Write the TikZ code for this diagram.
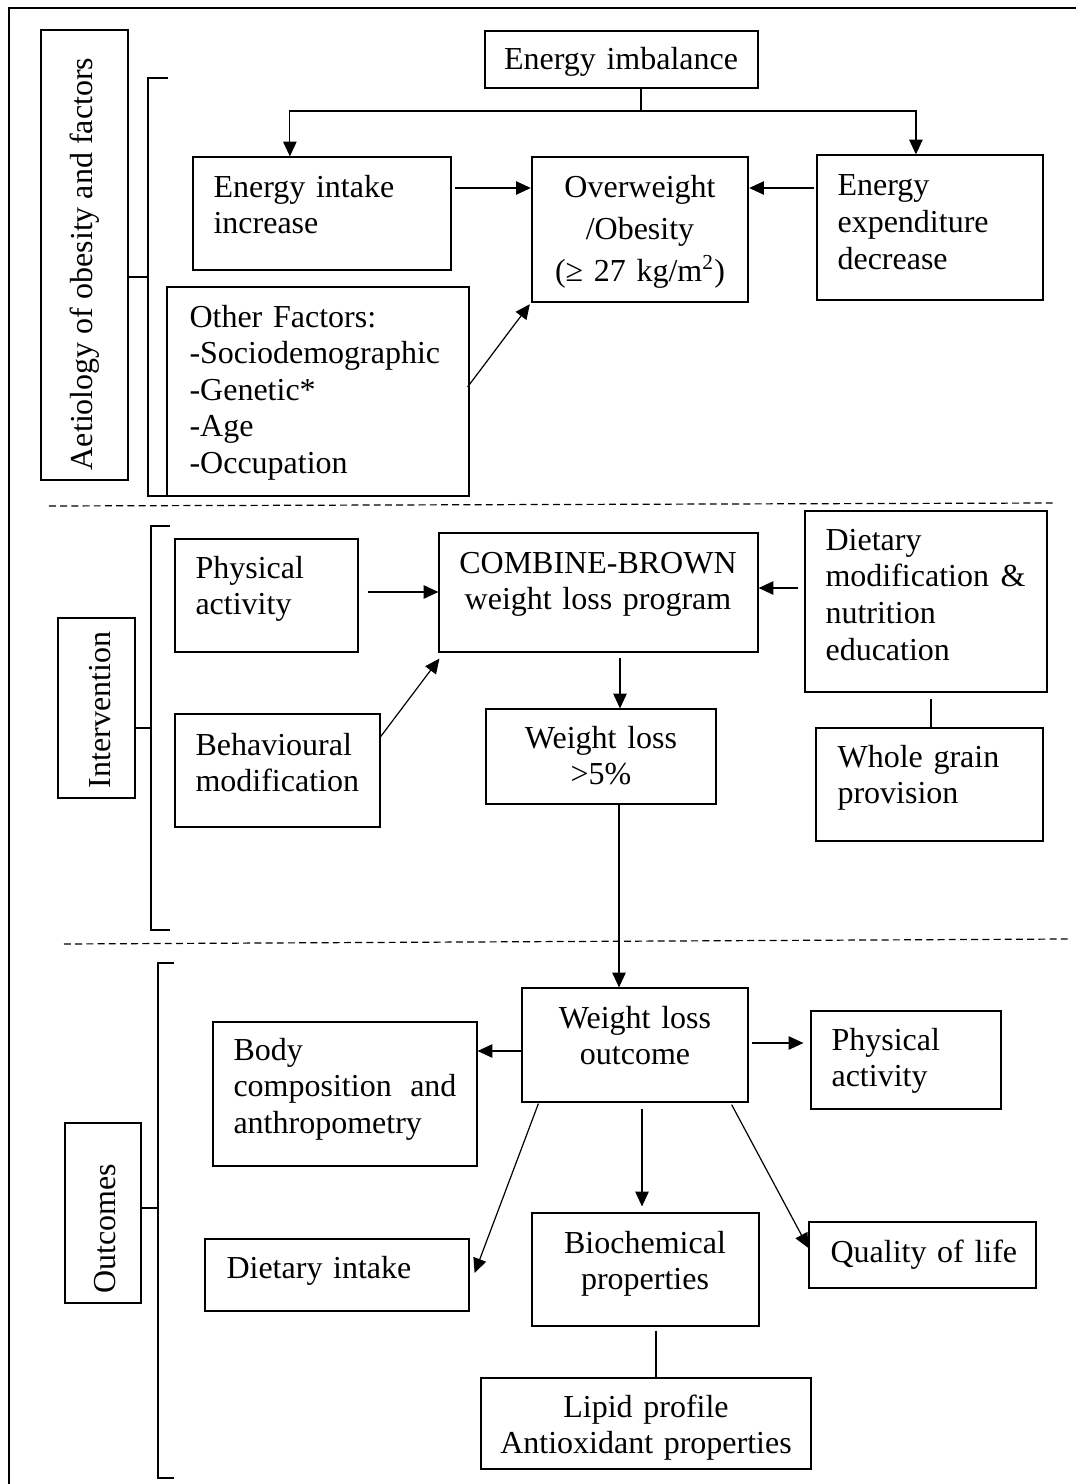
\documentclass[tikz,border=0pt]{standalone}
\usepackage{fontspec}
\setmainfont{Liberation Serif}
\usetikzlibrary{arrows.meta,fit,calc}
\begin{document}
\begin{tikzpicture}[x=0.375pt,y=-0.375pt,
  box/.style={draw, line width=0.45pt, inner sep=0pt},
  lt/.style={inner sep=0pt, font=\fontsize{12}{13.7}\selectfont, text width=130pt, align=left, anchor=base west},
  ct/.style={inner sep=0pt, font=\fontsize{12}{13.7}\selectfont, text width=140pt, align=center, anchor=base},
  rt/.style={inner sep=0pt, font=\fontsize{12}{13.7}\selectfont, rotate=90, anchor=base},
  arr/.style={line width=0.45pt, -{Triangle[length=5.5pt,width=5pt]}},
  ln/.style={line width=0.45pt},
  dline/.style={line width=0.45pt, dash pattern=on 2.6pt off 1.6pt}
]
\useasboundingbox (0,0) rectangle (1076,1484);
% outer frame
\draw[line width=0.6pt] (9,1484) -- (9,8) -- (1076,8);

% ===== Section 1 =====
\node[box, fit={(41,30) (128,480)}] (aet) {};
\node[rt] (aett) at (92,264) {Aetiology of obesity and factors};
\draw[ln] (168,78) -| (148,496) -- (168,496);
\coordinate (b1) at (148,277);
\draw[ln] (aet.east |- b1) -- (b1);

\node[box, fit={(485,31) (758,88)}] (ei) {};
\node[ct] (eit) at (621,70) {Energy imbalance};

\node[box, fit={(193,157) (451,270)}] (intake) {};
\node[lt] (intaket) at (213,197) {Energy intake\\increase};

\node[box, line width=0.9pt, fit={(532,157) (748,302)}] (ow) {};
\node[ct, font=\fontsize{12}{15.8}\selectfont] (owt) at (640,197) {Overweight\\/Obesity\\(≥ 27 kg/m\textsuperscript{2})};

\node[box, fit={(817,155) (1043,300)}] (exp) {};
\node[lt] (expt) at (837,196) {Energy\\expenditure\\decrease};

\node[box, fit={(167,287) (469,496)}] (other) {};
\node[lt] (othert) at (189,327) {Other Factors:\\-Sociodemographic\\-Genetic*\\-Age\\-Occupation};

\coordinate (j1) at (641,111);
\draw[ln] (ei.south -| j1) -- (j1);
\draw[arr] (j1) -| ($(intake.north west)!0.376!(intake.north east)$);
\draw[arr] (j1) -| ($(exp.north west)!0.438!(exp.north east)$);
\coordinate (r1) at (0,188);
\draw[arr] ($(intake.east |- r1)+(3,0)$) -- (ow.west |- r1);
\draw[arr] ($(exp.west |- r1)+(-2,0)$) -- (ow.east |- r1);
\coordinate (r2) at (0,387);
\draw[arr] ($(other.east |- r2)+(-2,0)$) -- ($(ow.south west)+(-1,1)$);

% ===== Section 2 =====
\draw[dline] (49,506) -- (1054,503);

\node[box, fit={(58,618) (135,798)}] (int) {};
\node[rt] (intt) at (110,710) {Intervention};
\draw[ln] (170,526) -| (151,930) -- (170,930);
\coordinate (b2) at (151,728);
\draw[ln] (int.east |- b2) -- (b2);

\node[box, fit={(175,539) (358,652)}] (pa) {};
\node[lt] (pat) at (195,578) {Physical\\activity};

\node[box, fit={(439,533) (758,652)}] (cb) {};
\node[ct] (cbt) at (598,573) {COMBINE-BROWN\\weight loss program};

\node[box, fit={(805,511) (1047,692)}] (diet) {};
\node[lt, text width=75pt, font=\fontsize{12}{13.75}\selectfont] (dietl) at (825,550) {Dietary\\modification\hfill\&\\nutrition\\education};

\node[box, fit={(816,728) (1043,841)}] (wg) {};
\node[lt] (wgt) at (837,767) {Whole grain\\provision};

\node[box, fit={(175,714) (380,827)}] (beh) {};
\node[lt] (beht) at (195,755) {Behavioural\\modification};

\node[box, fit={(486,709) (716,804)}] (wl) {};
\node[ct] (wlt) at (601,748) {Weight loss\\>5\%};

\coordinate (r3) at (0,592);
\draw[arr] ($(pa.east |- r3)+(9,0)$) -- (cb.west |- r3);
\coordinate (r4) at (0,588);
\draw[arr] ($(diet.west |- r4)+(-6,0)$) -- (cb.east |- r4);
\coordinate (r5) at (0,738);
\draw[arr] ($(beh.east |- r5)+(-1,0)$) -- ($(cb.south west)+(1,6)$);
\coordinate (c1) at (620,0);
\draw[arr] ($(cb.south -| c1)+(0,5)$) -- (wl.north -| c1);
\coordinate (c2) at (931,0);
\draw[ln] ($(diet.south -| c2)+(0,6)$) -- (wg.north -| c2);

% ===== Section 3 =====
\draw[dline] (64,944) -- (1068,939);

\node[box, fit={(65,1123) (141,1303)}] (out) {};
\node[rt] (outt) at (115,1229) {Outcomes};
\draw[ln] (174,963) -| (158,1478) -- (174,1478);
\coordinate (b3) at (158,1208);
\draw[ln] (out.east |- b3) -- (b3);

\node[box, fit={(522,988) (748,1102)}] (wlo) {};
\node[ct] (wlot) at (635,1028) {Weight loss\\outcome};

\coordinate (c3) at (619,0);
\draw[arr] (wl.south -| c3) -- (wlo.north -| c3);

\node[box, fit={(213,1022) (477,1166)}] (body) {};
\node[lt, text width=83.6pt] (bodyt) at (233,1060) {Body\\composition\hfill and\\anthropometry};

\node[box, fit={(205,1239) (469,1311)}] (di) {};
\node[lt] (dit) at (226,1278) {Dietary intake};

\node[box, fit={(811,1011) (1001,1109)}] (pa2) {};
\node[lt] (pa2t) at (831,1050) {Physical\\activity};

\node[box, fit={(532,1213) (759,1326)}] (bio) {};
\node[ct] (biot) at (645,1253) {Biochemical\\properties};

\node[box, fit={(809,1222) (1036,1288)}] (qol) {};
\node[lt] (qolt) at (830,1262) {Quality of life};

\node[box, fit={(481,1378) (811,1469)}] (lip) {};
\node[ct] (lipt) at (646,1417) {Lipid profile\\Antioxidant properties};

\coordinate (r6) at (0,1051);
\draw[arr] (wlo.west |- r6) -- (body.east |- r6);
\coordinate (r7) at (0,1043);
\draw[arr] ($(wlo.east |- r7)+(3,0)$) -- ($(pa2.west |- r7)+(-7,0)$);
\coordinate (c4) at (642,0);
\draw[arr] ($(wlo.south -| c4)+(0,6)$) -- ($(bio.north -| c4)+(0,-6)$);
\draw[arr] ($(wlo.south west)+(17,1)$) -- ($(di.east)+(5,-2)$);
\draw[arr] ($(wlo.south east)+(-17,2)$) -- ($(qol.west)+(0,-7)$);
\coordinate (c5) at (656,0);
\draw[ln] ($(bio.south -| c5)+(0,4)$) -- (lip.north -| c5);
\end{tikzpicture}
\end{document}
